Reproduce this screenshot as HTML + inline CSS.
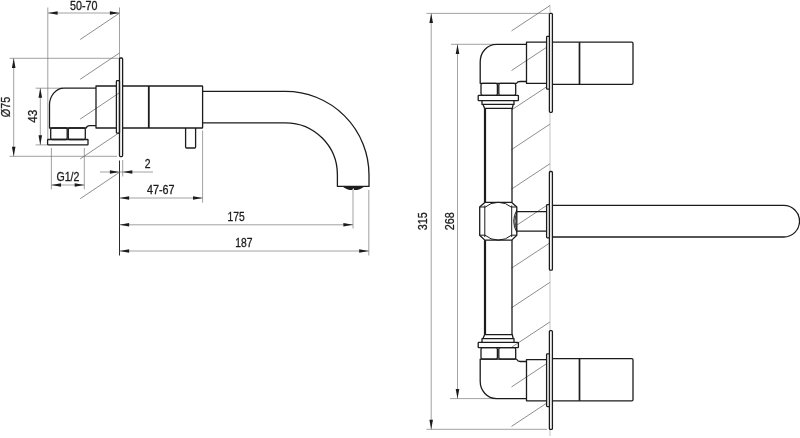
<!DOCTYPE html>
<html><head><meta charset="utf-8"><title>Drawing</title>
<style>
html,body{margin:0;padding:0;background:#fff;}
svg{display:block;will-change:transform;}
.m{fill:none;stroke:#1c1c1c;stroke-width:1.3;stroke-linejoin:round;stroke-linecap:butt;}
.t{stroke:#707070;stroke-width:0.65;fill:none;}
.d{stroke:#2a2a2a;stroke-width:1;fill:none;}
.h{stroke:#686868;stroke-width:0.75;fill:none;}
.wl{stroke:#9a9a9a;stroke-width:0.6;fill:none;}
.w{fill:#fff;}
.a{fill:#1c1c1c;stroke:none;}
text{font-family:"Liberation Sans",sans-serif;font-size:12.2px;fill:#1c1c1c;stroke:#1c1c1c;stroke-width:0.3px;}
</style></head><body>
<svg width="800" height="438" viewBox="0 0 800 438">
<rect width="800" height="438" fill="#fff"/>
<line class="h" x1="80.2" y1="39.5" x2="119.4" y2="13.2"/>
<line class="h" x1="80.2" y1="79.3" x2="119.4" y2="53.0"/>
<line class="h" x1="80.2" y1="119.1" x2="119.4" y2="92.8"/>
<line class="h" x1="80.2" y1="158.9" x2="119.4" y2="132.6"/>
<line class="h" x1="80.2" y1="198.7" x2="119.4" y2="172.4"/>
<line class="t" x1="47.8" y1="7.5" x2="47.8" y2="139.5"/>
<line class="t" x1="119.5" y1="7.5" x2="119.5" y2="58.0"/>
<line class="t" x1="48.0" y1="13.0" x2="119.5" y2="13.0"/>
<polygon class="a" points="48.0,13.0 57.6,11.2 57.6,14.8"/>
<polygon class="a" points="119.5,13.0 109.9,11.2 109.9,14.8"/>
<text x="70.0" y="9.9" textLength="27.5" lengthAdjust="spacingAndGlyphs">50-70</text>
<line class="t" x1="9.5" y1="58.3" x2="119.0" y2="58.3"/>
<line class="t" x1="9.5" y1="156.3" x2="117.0" y2="156.3"/>
<line class="t" x1="13.7" y1="58.3" x2="13.7" y2="156.3"/>
<polygon class="a" points="13.7,58.3 11.9,67.9 15.5,67.9"/>
<polygon class="a" points="13.7,156.3 11.9,146.7 15.5,146.7"/>
<text transform="translate(10.4 117.2) rotate(-90)" textLength="20.5" lengthAdjust="spacingAndGlyphs">Ø75</text>
<line class="t" x1="35.6" y1="88.2" x2="63.0" y2="88.2"/>
<line class="t" x1="35.6" y1="144.9" x2="47.0" y2="144.9"/>
<line class="t" x1="40.3" y1="88.2" x2="40.3" y2="144.9"/>
<polygon class="a" points="40.3,88.2 38.5,97.8 42.1,97.8"/>
<polygon class="a" points="40.3,144.9 38.5,135.3 42.1,135.3"/>
<text transform="translate(36.6 122.8) rotate(-90)" textLength="13.0" lengthAdjust="spacingAndGlyphs">43</text>
<line class="t" x1="51.4" y1="148.0" x2="51.4" y2="189.3"/>
<line class="t" x1="84.3" y1="148.0" x2="84.3" y2="189.3"/>
<line class="t" x1="51.4" y1="185.0" x2="84.3" y2="185.0"/>
<polygon class="a" points="51.4,185.0 61.0,183.2 61.0,186.8"/>
<polygon class="a" points="84.3,185.0 74.7,183.2 74.7,186.8"/>
<text x="56.4" y="180.8" textLength="23.0" lengthAdjust="spacingAndGlyphs">G1/2</text>
<line class="d" x1="119.5" y1="160.5" x2="119.5" y2="255.5"/>
<line class="t" x1="122.7" y1="160.0" x2="122.7" y2="176.5"/>
<line class="t" x1="100.0" y1="172.0" x2="153.0" y2="172.0"/>
<polygon class="a" points="119.5,172.0 109.9,170.2 109.9,173.8"/>
<polygon class="a" points="122.7,172.0 132.3,170.2 132.3,173.8"/>
<text x="144.8" y="168.1" textLength="5.8" lengthAdjust="spacingAndGlyphs">2</text>
<line class="t" x1="202.6" y1="130.5" x2="202.6" y2="202.7"/>
<line class="t" x1="119.5" y1="198.0" x2="202.6" y2="198.0"/>
<polygon class="a" points="119.5,198.0 129.1,196.2 129.1,199.8"/>
<polygon class="a" points="202.6,198.0 193.0,196.2 193.0,199.8"/>
<text x="147.0" y="194.2" textLength="27.5" lengthAdjust="spacingAndGlyphs">47-67</text>
<line class="t" x1="353.0" y1="189.5" x2="353.0" y2="228.5"/>
<line class="t" x1="119.5" y1="224.8" x2="353.0" y2="224.8"/>
<polygon class="a" points="119.5,224.8 129.1,223.0 129.1,226.6"/>
<polygon class="a" points="353.0,224.8 343.4,223.0 343.4,226.6"/>
<text x="227.6" y="220.5" textLength="17.2" lengthAdjust="spacingAndGlyphs">175</text>
<line class="t" x1="368.8" y1="190.0" x2="368.8" y2="255.5"/>
<line class="t" x1="119.5" y1="251.0" x2="368.8" y2="251.0"/>
<polygon class="a" points="119.5,251.0 129.1,249.2 129.1,252.8"/>
<polygon class="a" points="368.8,251.0 359.2,249.2 359.2,252.8"/>
<text x="235.2" y="247.2" textLength="17.2" lengthAdjust="spacingAndGlyphs">187</text>
<rect class="m" x="119.5" y="58" width="3.1" height="98.6" rx="1"/>
<rect class="m" x="116.4" y="80.6" width="3.1" height="52.6" rx="0.8"/>
<path class="m" d="M116.4 86 H96 V128 H116.4"/>
<path class="m" d="M96 88.2 H64 A14.5 16.8 0 0 0 49.5 105 V128 H86.2 C86.8 126.2 88 125.7 89.7 125.7 H96"/>
<rect class="m" x="50.7" y="128" width="16.5" height="11.5" rx="1.5"/>
<rect class="m" x="68.3" y="128" width="17" height="11.5" rx="1.5"/>
<rect class="m" x="47.6" y="139.5" width="40.4" height="5.4" rx="0.6"/>
<path class="m" d="M122.6 86 H202 Q202.6 86 202.6 86.6 V127.4 Q202.6 128 202 128 H122.6"/>
<path class="m" style="stroke-width:1.8" d="M148.8 86 V128"/>
<path class="m" d="M185.6 128 V147 Q185.6 148 186.6 148 H194.6 Q195.6 148 195.6 147 V128"/>
<path class="m" d="M202.6 91.4 H285.5 A83.5 83.5 0 0 1 369.0 174.9 V186.4 H337.4 V174.9 A51.9 51.9 0 0 0 285.5 122.8 H202.6"/>
<path class="a" d="M342.4 186.4 H364.4 Q360 190 354.2 190.1 L353.2 188 L352.2 190.1 Q347 190 342.4 186.4 Z"/>
<line class="h" x1="511.5" y1="30.9" x2="550.0" y2="5.5"/>
<line class="h" x1="511.5" y1="70.5" x2="547.5" y2="46.7"/>
<line class="h" x1="511.5" y1="110.0" x2="546.6" y2="86.8"/>
<line class="h" x1="511.5" y1="149.6" x2="550.0" y2="124.1"/>
<line class="h" x1="511.5" y1="189.1" x2="550.0" y2="163.7"/>
<line class="h" x1="517.0" y1="225.0" x2="548.6" y2="204.2"/>
<line class="h" x1="511.5" y1="268.2" x2="550.0" y2="242.8"/>
<line class="h" x1="511.5" y1="307.8" x2="550.0" y2="282.3"/>
<line class="h" x1="511.5" y1="347.3" x2="550.0" y2="321.9"/>
<line class="h" x1="511.5" y1="386.9" x2="546.6" y2="363.7"/>
<line class="h" x1="511.5" y1="426.4" x2="547.5" y2="402.6"/>
<line class="wl" x1="550.0" y1="5.0" x2="550.0" y2="13.0"/>
<line class="wl" x1="550.0" y1="112.5" x2="550.0" y2="171.5"/>
<line class="wl" x1="550.0" y1="270.5" x2="550.0" y2="330.5"/>
<line class="wl" x1="550.0" y1="429.5" x2="550.0" y2="436.0"/>
<line class="t" x1="426.4" y1="13.4" x2="549.0" y2="13.4"/>
<line class="t" x1="426.4" y1="429.3" x2="547.0" y2="429.3"/>
<line class="t" x1="431.2" y1="13.4" x2="431.2" y2="429.3"/>
<polygon class="a" points="431.2,13.4 429.4,23.0 433.0,23.0"/>
<polygon class="a" points="431.2,429.3 429.4,419.7 433.0,419.7"/>
<text transform="translate(427.2 230.2) rotate(-90)" textLength="18.0" lengthAdjust="spacingAndGlyphs">315</text>
<line class="t" x1="451.0" y1="44.3" x2="494.0" y2="44.3"/>
<line class="t" x1="450.0" y1="398.6" x2="494.0" y2="398.6"/>
<line class="t" x1="457.5" y1="44.3" x2="457.5" y2="398.6"/>
<polygon class="a" points="457.5,44.3 455.7,53.9 459.3,53.9"/>
<polygon class="a" points="457.5,398.6 455.7,389.0 459.3,389.0"/>
<text transform="translate(454.2 230.2) rotate(-90)" textLength="18.0" lengthAdjust="spacingAndGlyphs">268</text>
<rect class="m w" x="549.4" y="13.3" width="3" height="99.0" rx="1"/>
<rect class="m w" x="546.6" y="36.4" width="2.8" height="52.8" rx="0.8"/>
<path class="m" d="M546.6 42.2 H526.5 V83.4 H546.6"/>
<path class="m" d="M552.4 42.2 H631.8 Q633 42.2 633 43.4 V83.1 Q633 84.3 631.8 84.3 H552.4"/>
<path class="m" style="stroke-width:1.7" d="M579.5 42.2 V84.3"/>
<path class="m" d="M526.5 44.3 H496.3 A16.3 17.4 0 0 0 480.2 61.7 V83.3 H516.6 C517 82.5 518.4 81.5 520.3 81.5 H526.5"/>
<rect class="m" x="481.0" y="83.3" width="16.4" height="12.1" rx="1.6"/>
<rect class="m" x="498.8" y="83.3" width="16.9" height="12.1" rx="1.6"/>
<rect class="m" x="478.2" y="95.4" width="40.2" height="5.2" rx="0.6"/>
<path class="m" d="M482 100.6 V104.4 H514 V100.6"/>
<path class="m" d="M483 104.4 L484.6 108.3 H512.3 L513.2 104.4"/>
<rect class="m w" x="549.4" y="330.6" width="3" height="98.8" rx="1"/>
<rect class="m w" x="546.6" y="353.8" width="2.8" height="52.8" rx="0.8"/>
<path class="m" d="M546.6 400.8 H526.5 V359.6 H546.6"/>
<path class="m" d="M552.4 400.8 H631.8 Q633 400.8 633 399.6 V359.9 Q633 358.7 631.8 358.7 H552.4"/>
<path class="m" style="stroke-width:1.7" d="M579.5 400.8 V358.7"/>
<path class="m" d="M526.5 398.7 H496.3 A16.3 17.4 0 0 1 480.2 381.3 V359.2 H516.6 C517 360.0 518.4 361.5 520.3 361.5 H526.5"/>
<rect class="m" x="481.0" y="347.6" width="16.4" height="11.6" rx="1.6"/>
<rect class="m" x="498.8" y="347.6" width="16.9" height="11.6" rx="1.6"/>
<rect class="m" x="478.2" y="342.4" width="40.2" height="5.2" rx="0.6"/>
<path class="m" d="M482 342.4 V338.6 H514 V342.4"/>
<path class="m" d="M483 338.6 L484.6 334.7 H512.3 L513.2 338.6"/>
<path class="m" style="stroke-width:2.2" d="M485 108.3 V202.4"/>
<path class="m" d="M512 108.3 V202.4"/>
<path class="m" style="stroke-width:2.2" d="M485 240.1 V334.7"/>
<path class="m" d="M512 240.1 V334.7"/>
<path class="m" d="M484.8 202.4 H511.7 L516.8 207 V235.2 L511.7 240.1 H484.8 L479.7 235.2 V207 Z"/>
<path class="m" style="stroke-width:1" d="M484.8 205.5 V237 M511.7 205.5 V237 M479.7 207 H484.8 M479.7 235.2 H484.8 M511.7 207 H516.8 M511.7 235.2 H516.8"/>
<path class="m" style="stroke-width:1" d="M484.8 207.4 A20.3 20.3 0 0 1 511.7 207.4 M484.8 235 A20.3 20.3 0 0 0 511.7 235"/>
<path class="m" style="stroke-width:1" d="M516.8 210 Q510.6 221.2 516.8 232.4 M516.8 212.5 Q513.2 221.2 516.8 230"/>
<path class="m" d="M516.8 211.6 H546.5 M516.8 231.1 H546.5"/>
<rect class="m w" x="549.4" y="171.5" width="3" height="98.7" rx="1"/>
<rect class="m w" x="546.6" y="204.7" width="2.8" height="33.1" rx="0.8"/>
<path class="m" d="M552.4 205.3 H783.7 A15.85 15.85 0 0 1 783.7 237 H552.4"/>
</svg>
</body></html>
